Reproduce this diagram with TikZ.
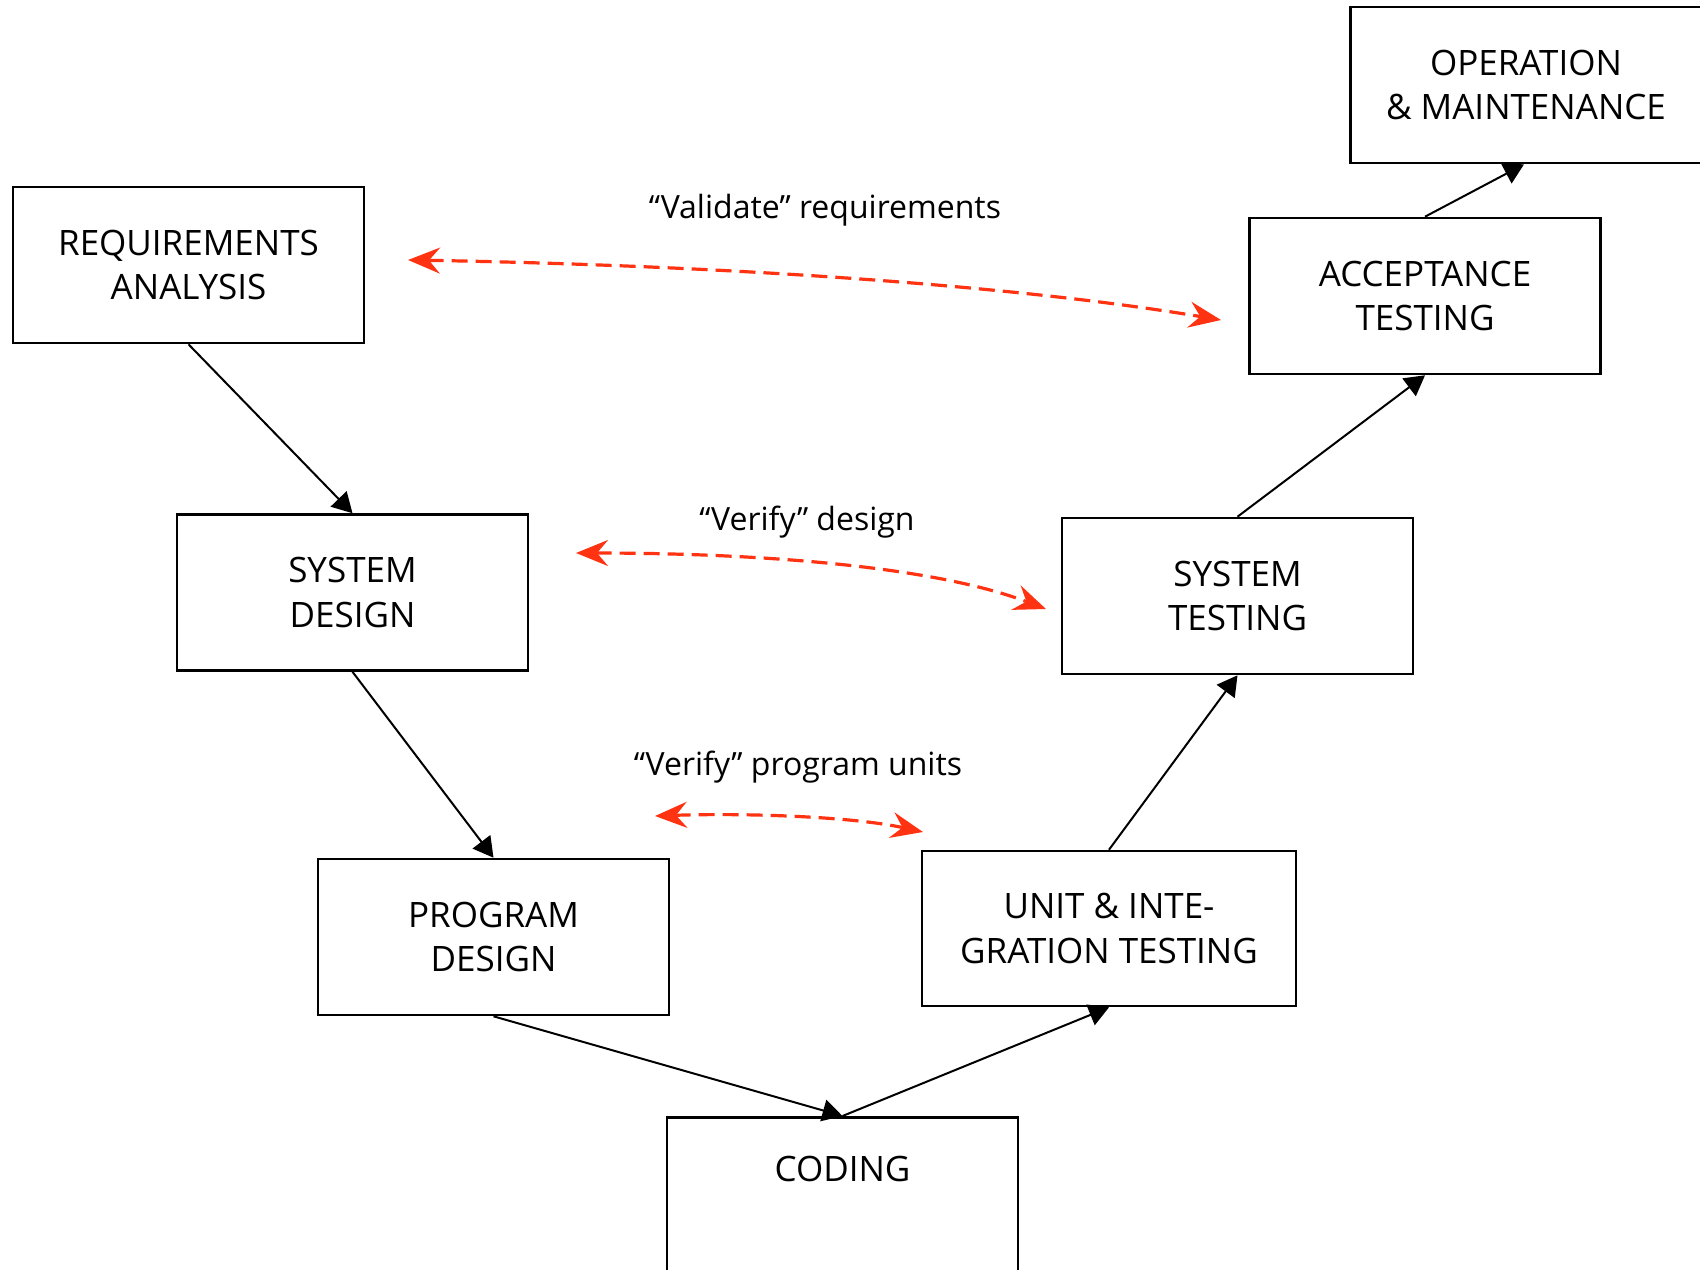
\documentclass[tikz,border=0pt]{standalone}
\usepackage{fontspec}
\setmainfont{Open Sans}
\usetikzlibrary{arrows.meta}
\definecolor{vred}{RGB}{255,51,17}
\begin{document}
\begin{tikzpicture}[x=0.5pt,y=-0.5pt,
  box/.style={draw, line width=1.3pt, rectangle, inner sep=0pt, minimum width=175.5pt, minimum height=78pt, align=center, font=\fontsize{17.5}{22.25}\selectfont},
  conn/.style={line width=1pt, -{Triangle[length=10pt,width=11pt]}},
  vtip/.style={},
  vline/.style={draw=vred, line width=1.6pt, dash pattern=on 8pt off 4pt, {Stealth[length=16pt,width=13pt,inset=5.5pt,fill=vred]}-{Stealth[length=16pt,width=13pt,inset=5.5pt,fill=vred]}},
  lbl/.style={font=\fontsize{16}{20}\selectfont}]
\useasboundingbox (0,0) rectangle (1700,1269);
\node[box] (req) at (188.5,265) {REQUIREMENTS\\ANALYSIS};
\node[box] (op) at (1526,85) {OPERATION\\\& MAINTENANCE};
\node[box] (acc) at (1425,296) {ACCEPTANCE\\TESTING};
\node[box] (sysdes) at (352.5,592.5) {SYSTEM\\DESIGN};
\node[box] (systest) at (1237.5,596) {SYSTEM\\TESTING};
\node[box] (progdes) at (493.5,937) {PROGRAM\\DESIGN};
\node[box, minimum width=187pt, minimum height=77.5pt] (unit) at (1109,928.5) {UNIT \& INTE-\\GRATION TESTING};
\node[draw, line width=1.3pt, rectangle, inner sep=0pt, minimum width=175.5pt, anchor=north, text height=32pt, text depth=100pt, font=\fontsize{17.5}{22.25}\selectfont] (coding) at (842.5,1116) {CODING};

\draw[conn] (req.south) -- (sysdes.north);
\draw[conn] (sysdes.south) -- (progdes.north);
\draw[conn] (progdes.south) -- (coding.north);
\draw[conn] (coding.north) -- (unit.south);
\draw[conn] (unit.north) -- (systest.south);
\draw[conn] (systest.north) -- (acc.south);
\draw[conn] (acc.north) -- (op.south -| 1524,0);

\node[lbl] (l1) at (825,210) {“Validate” requirements};
\node[lbl] (l2) at (807,522) {“Verify” design};
\node[lbl] (l3) at (798,767) {“Verify” program units};

\coordinate (v1a) at (408,260);
\coordinate (v1b) at (1221,320);
\coordinate (v2a) at (576,553);
\coordinate (v2b) at (1046,609);
\coordinate (v3a) at (655,816);
\coordinate (v3b) at (923,832);
\draw[vline] (v1a) .. controls (700,265) and (1000,283) .. (v1b);
\draw[vline] (v2a) .. controls (750,553) and (930,565) .. (v2b);
\draw[vline] (v3a) .. controls (740,813) and (850,816) .. (v3b);
\end{tikzpicture}
\end{document}
